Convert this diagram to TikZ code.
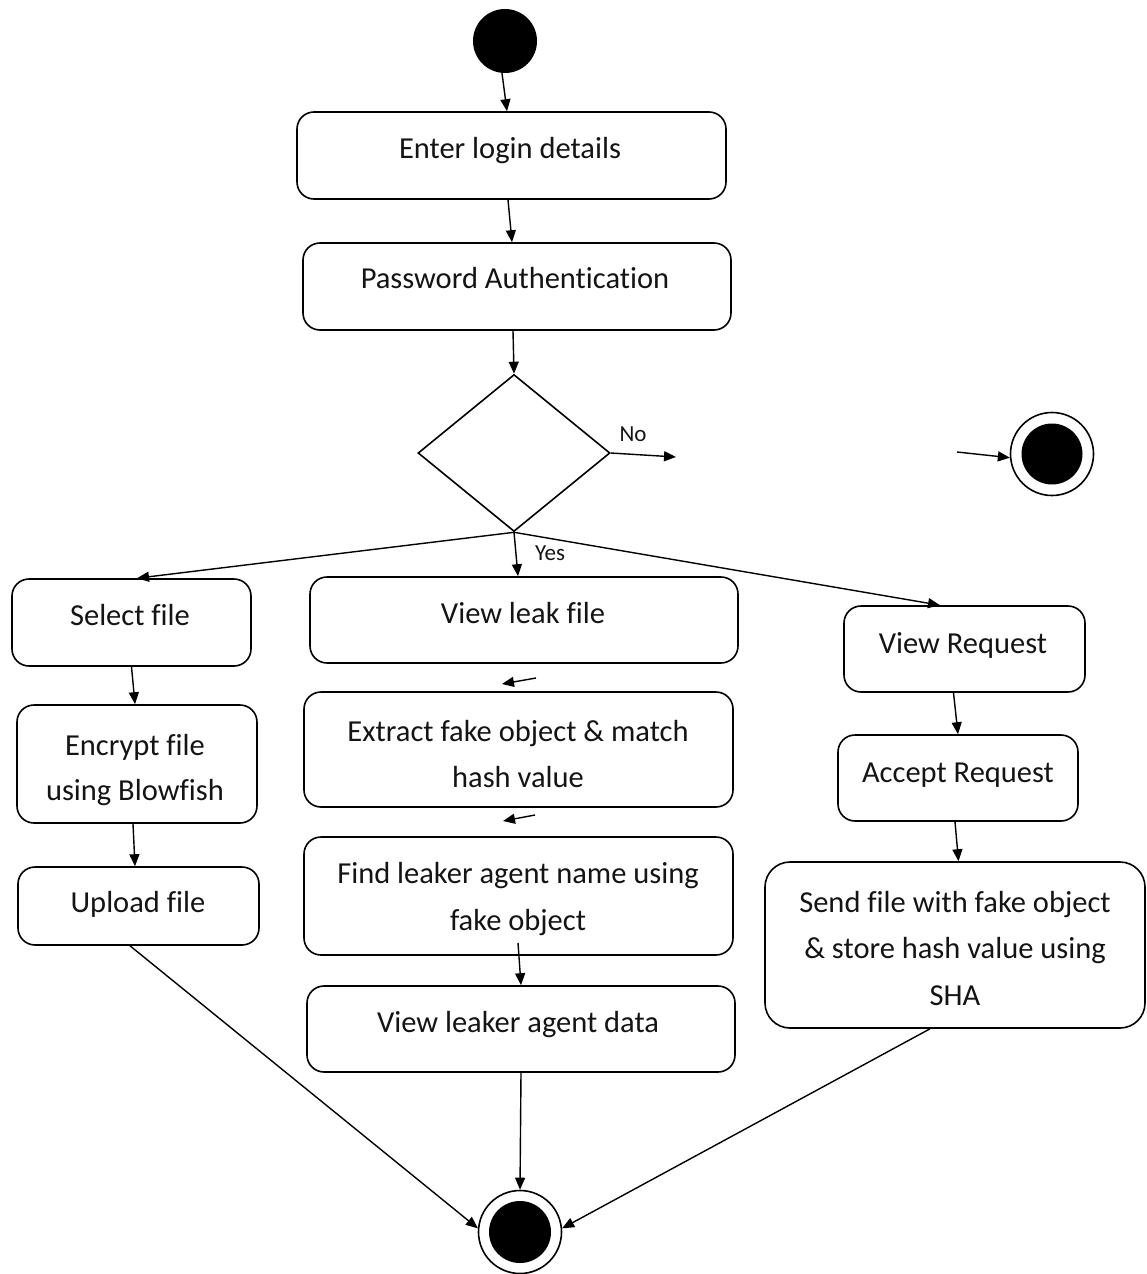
\documentclass[tikz,border=0pt]{standalone}
\usepackage{fontspec}
\setmainfont{Carlito}[RawFeature={-liga;-clig;-dlig}]
\usetikzlibrary{arrows.meta,shapes.geometric,calc}
\begin{document}
\begin{tikzpicture}[x=1pt,y=-1pt,
  box/.style={draw, line width=1.6pt, rounded corners=17pt, inner sep=0pt},
  lbl/.style={anchor=base, inner sep=0pt, font=\fontsize{30.5}{36}\selectfont, text=black!92},
  small/.style={anchor=center, inner sep=0pt, font=\fontsize{23}{28}\selectfont, text=black!92},
  flow/.style={line width=1.4pt, -{Triangle[length=12pt,width=10pt]}},
  dot/.style={circle, fill=black, inner sep=0pt},
  ring/.style={circle, draw, line width=1.6pt, inner sep=0pt, minimum size=83pt}]
\useasboundingbox (0,0) rectangle (1146,1274);

% initial and final states
\node[dot, minimum size=64pt] (start) at (505,41) {};
\node[ring] (endR) at (1052,454) {};
\node[dot, minimum size=61pt] (endRdot) at (1052,454) {};
\node[ring] (fin) at (520,1232) {};
\node[dot, minimum size=62pt] (findot) at (520,1232) {};

% activities
\node[box, minimum width=429pt, minimum height=87pt] (login) at (511.5,155.5) {};
\node[box, minimum width=428pt, minimum height=87pt] (auth) at (517,286.5) {};
\node[draw, diamond, line width=1.6pt, inner sep=0pt, minimum width=192pt, minimum height=157pt] (dec) at (514,453) {};

\node[box, minimum width=239pt, minimum height=87pt] (select) at (131.5,622.5) {};
\node[box, minimum width=240pt, minimum height=118pt] (encrypt) at (137,764) {};
\node[box, minimum width=241pt, minimum height=78pt] (upload) at (138.5,906) {};

\node[box, minimum width=428pt, minimum height=86pt] (leak) at (524,620) {};
\node[box, minimum width=429pt, minimum height=115pt] (extract) at (518.5,749.5) {};
\node[box, minimum width=429pt, minimum height=118pt] (find) at (518.5,896) {};
\node[box, minimum width=428pt, minimum height=86pt] (leaker) at (521,1029) {};

\node[box, minimum width=241pt, minimum height=86pt] (viewreq) at (964.5,649) {};
\node[box, minimum width=240pt, minimum height=86pt] (accept) at (958,778) {};
\node[box, rounded corners=25pt, minimum width=380pt, minimum height=166pt] (send) at (955,945) {};

% texts
\node[lbl] (loginT) at (510,158) {Enter login details};
\node[lbl] (authT) at (515,288) {Password Authentication};
\node[lbl] (selectT) at (130,625) {Select file};
\node[lbl] (encryptTa) at (135,755) {Encrypt file};
\node[lbl] (encryptTb) at (135,800) {using Blowfish};
\node[lbl] (uploadT) at (138,912) {Upload file};
\node[lbl] (leakT) at (523,623) {View leak file};
\node[lbl] (extractTa) at (518,741) {Extract fake object \& match};
\node[lbl] (extractTb) at (518,787) {hash value};
\node[lbl] (findTa) at (518,883) {Find leaker agent name using};
\node[lbl] (findTb) at (518,930) {fake object};
\node[lbl] (leakerT) at (518,1032) {View leaker agent data};
\node[lbl] (viewreqT) at (963,653) {View Request};
\node[lbl] (acceptT) at (958,782) {Accept Request};
\node[lbl] (sendTa) at (955,912) {Send file with fake object};
\node[lbl] (sendTb) at (955,958) {\& store hash value using};
\node[lbl] (sendTc) at (955,1005) {SHA};
\node[small] (noT) at (633,434) {No};
\node[small] (yesT) at (550,553) {Yes};

% free connector ends
\coordinate (noEnd) at (676,457);
\coordinate (inR) at (957,452);
\coordinate (a1s) at (536,678);
\coordinate (a1e) at (502,684);
\coordinate (a2s) at (535,815);
\coordinate (a2e) at (503,821);

% main flow
\draw[flow] ([xshift=-3pt]start.south) -- ([xshift=-4.5pt]login.north);
\draw[flow] ([xshift=-3.5pt]login.south) -- ([xshift=-5pt]auth.north);
\draw[flow] ([xshift=-4pt]auth.south) -- (dec.north);
\draw[flow] (dec.east) -- (noEnd);
\draw[flow] (inR) -- (endR.185);
\draw[flow] (dec.south) -- ([xshift=5.5pt]select.north);
\draw[flow] (dec.south) -- ([xshift=-6pt]leak.north);
\draw[flow] (dec.south) -- ([xshift=-24.5pt]viewreq.north);

% left branch
\draw[flow] (select.south) -- ([xshift=-2pt]encrypt.north);
\draw[flow] ([xshift=-4pt]encrypt.south) -- ([xshift=-3.5pt]upload.north);
\draw[flow] ([xshift=-8.5pt]upload.south) -- (fin.175);

% middle branch
\draw[flow] (a1s) -- (a1e);
\draw[flow] (a2s) -- (a2e);
\draw[flow] ([xshift=-0.5pt,yshift=13pt]find.south) -- (leaker.north);
\draw[flow] (leaker.south) -- (fin.north);

% right branch
\draw[flow] ([xshift=-11pt]viewreq.south) -- (accept.north);
\draw[flow] ([xshift=-3pt]accept.south) -- ([xshift=3.5pt]send.north);
\draw[flow] ([xshift=-25pt]send.south) -- (fin.5);
\end{tikzpicture}
\end{document}
